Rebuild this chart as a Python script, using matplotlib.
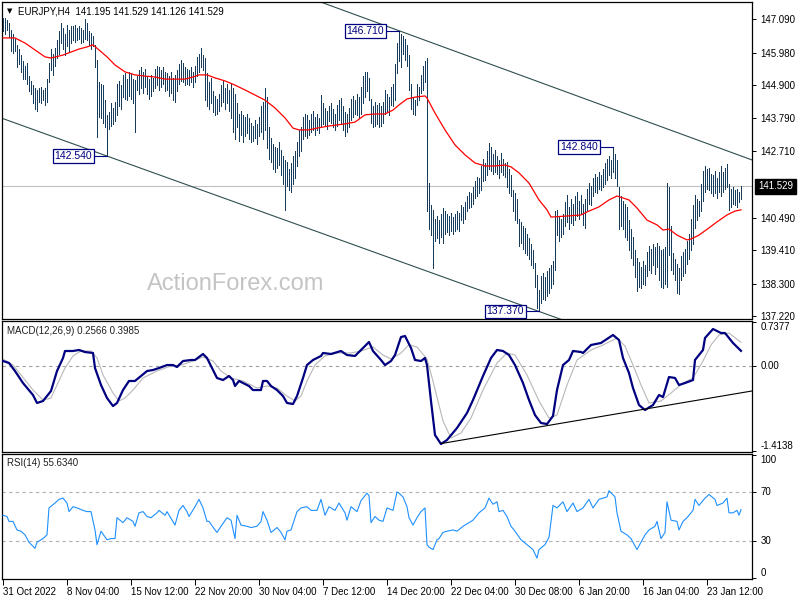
import matplotlib
matplotlib.use("Agg")
import matplotlib.pyplot as plt
import numpy as np

plt.rcParams['font.family'] = ['Liberation Sans', 'DejaVu Sans']

# ---------------- data ----------------
title_text = "EURJPY,H4  141.195 141.529 141.126 141.529"

high = [
    147.13, 147.13, 147.07, 146.95, 146.75, 146.60, 146.45, 146.24, 146.10, 145.90,
    145.70, 145.55, 145.62, 145.20, 145.05, 144.90, 144.80, 144.75, 144.80, 144.85,
    144.75, 144.80, 145.10, 145.65, 146.10, 145.95, 146.15, 146.40, 146.70, 146.97,
    146.80, 146.60, 146.90, 146.75, 146.85, 146.85, 146.90, 146.80, 146.88, 146.80,
    146.75, 147.10, 146.95, 146.70, 146.65, 146.55, 146.24, 145.74, 145.00, 144.95,
    144.90, 144.40, 143.90, 144.00, 144.30, 144.15, 144.35, 144.95, 145.05, 144.90,
    145.25, 145.30, 145.10, 145.35, 145.30, 145.10, 145.07, 145.20, 145.40, 145.50,
    145.35, 145.45, 145.20, 145.10, 145.25, 145.15, 145.45, 145.55, 145.50, 145.40,
    145.50, 145.35, 145.30, 145.20, 145.35, 145.15, 145.25, 145.40, 145.60, 145.75,
    145.65, 145.50, 145.45, 145.40, 145.50, 145.35, 145.55, 145.85, 145.95, 146.12,
    145.90, 145.80, 145.30, 145.00, 145.15, 144.70, 144.55, 144.45, 144.60, 144.90,
    145.05, 144.80, 144.95, 144.75, 144.95, 144.80, 144.60, 144.30, 143.95, 144.05,
    143.90, 143.85, 143.95, 143.80, 143.65, 143.55, 143.75, 143.60, 143.85, 144.20,
    144.35, 144.80, 144.50, 143.50, 143.15, 142.95, 142.85, 142.80, 143.00, 142.75,
    142.55, 142.40, 142.35, 142.10, 142.30, 142.55, 142.70, 143.00, 143.40, 143.50,
    143.85, 143.95, 143.90, 143.75, 143.95, 144.05, 143.85, 143.95, 143.80, 144.57,
    144.30, 144.15, 144.05, 144.20, 144.30, 144.10, 143.95, 144.25, 144.40, 144.47,
    144.20, 144.00, 143.95, 144.15, 144.45, 144.55, 144.40, 144.60, 144.50, 144.85,
    145.20, 145.35, 145.35, 145.15, 144.45, 144.20, 144.35, 144.25, 144.30, 144.20,
    144.35, 144.75, 144.60, 144.50, 144.85, 144.95, 145.60, 146.30, 146.71, 146.60,
    146.55, 146.45, 146.25, 145.90, 144.95, 144.50, 144.40, 144.95, 144.85, 145.25,
    145.55, 145.70, 145.80, 141.65, 140.90, 140.75, 140.45, 140.55, 140.40, 140.60,
    140.80, 140.70, 140.60, 140.55, 140.65, 140.50, 140.60, 140.70, 140.65, 140.90,
    140.85, 141.00, 141.20, 141.35, 141.30, 141.50, 141.70, 141.85, 141.80, 142.20,
    142.45, 142.30, 142.70, 142.97, 142.85, 142.60, 142.75, 142.55, 142.40, 142.65,
    142.45, 142.30, 142.35, 142.10, 141.90, 141.40, 141.30, 141.10, 140.45, 140.35,
    140.20, 140.15, 139.95, 139.80, 139.60, 139.40, 138.98, 138.58, 138.08, 138.55,
    138.65, 138.50, 138.70, 138.80, 138.90, 139.05, 140.70, 140.75, 140.55, 140.45,
    140.60, 141.00, 141.25, 140.85, 141.10, 140.95, 141.20, 141.35, 141.05, 141.25,
    140.95, 141.10, 141.45, 141.65, 141.55, 141.80, 141.95, 141.85, 142.00, 141.90,
    142.10, 142.30, 142.45, 142.55, 142.40, 142.84, 142.60, 142.40, 141.50, 141.20,
    141.05, 140.95, 140.85, 140.40, 140.10, 139.85, 139.40, 139.15, 139.00, 138.85,
    139.05, 138.90, 139.35, 139.55, 139.45, 139.60, 139.50, 139.65, 139.55, 139.40,
    139.45, 139.50, 141.65, 141.50, 140.20, 139.30, 139.10, 138.95, 138.80, 139.20,
    139.35, 139.45, 139.70, 139.95, 140.45, 140.90, 141.25, 141.10, 141.05, 141.60,
    142.05, 142.20, 142.10, 142.15, 141.95, 141.90, 142.05, 141.80, 142.00, 142.20,
    142.00, 142.15, 142.27, 141.60, 141.45, 141.50, 141.40, 141.45, 141.35, 141.529,
]

low = [
    146.70, 146.60, 146.75, 146.50, 146.05, 145.98, 146.05, 145.50, 145.60, 145.35,
    145.10, 145.10, 144.95, 144.70, 144.60, 144.30, 144.10, 144.05, 144.35, 144.30,
    144.40, 144.25, 144.35, 145.00, 145.40, 145.25, 145.55, 145.80, 145.95, 146.30,
    146.10, 145.90, 146.20, 146.05, 146.30, 146.40, 146.35, 146.40, 146.45, 146.30,
    146.35, 146.45, 146.40, 146.25, 146.10, 146.20, 145.50, 143.17, 143.85, 143.80,
    143.65, 143.50, 142.54, 143.45, 143.55, 143.60, 143.70, 143.90, 144.20, 144.10,
    144.50, 144.45, 144.40, 144.55, 144.45, 144.30, 143.35, 144.75, 144.60, 144.80,
    144.65, 144.85, 144.60, 144.45, 144.55, 144.70, 144.80, 144.90, 144.75, 144.85,
    144.95, 144.70, 144.75, 144.55, 144.65, 144.40, 144.35, 144.70, 144.95, 145.05,
    145.00, 144.90, 144.95, 144.90, 145.00, 144.85, 145.00, 145.20, 145.35, 145.50,
    145.40, 144.40, 144.20, 144.10, 144.30, 144.00, 143.90, 143.95, 144.05, 144.20,
    144.35, 144.10, 144.30, 144.05, 143.80, 143.35, 143.10, 143.50, 143.05, 143.25,
    143.00, 143.20, 143.30, 143.10, 143.00, 143.05, 143.15, 142.95, 143.20, 143.35,
    143.10, 143.40, 142.80, 142.45, 142.35, 142.10, 142.00, 142.15, 142.25, 141.90,
    141.60, 140.75, 141.55, 141.40, 141.35, 141.60, 141.80, 142.20, 142.55, 142.70,
    143.10, 143.20, 143.15, 143.25, 143.35, 143.40, 143.25, 143.40, 143.30, 143.55,
    143.60, 143.55, 143.45, 143.70, 143.65, 143.50, 143.40, 143.55, 143.75, 143.60,
    143.40, 143.20, 143.35, 143.50, 143.75, 143.85, 143.95, 143.90, 143.80, 143.95,
    144.30, 144.50, 144.70, 144.40, 143.65, 143.50, 143.55, 143.60, 143.50, 143.55,
    143.65, 143.95, 144.00, 143.90, 144.25, 144.20, 144.40, 145.30, 145.70, 145.50,
    145.95, 145.75, 145.55, 144.75, 144.10, 143.95, 143.90, 144.25, 144.40, 144.65,
    144.75, 145.00, 140.70, 140.10, 139.90, 138.82, 139.70, 139.80, 139.65, 139.85,
    139.65, 139.95, 140.00, 139.90, 140.05, 139.95, 140.05, 140.10, 140.05, 140.40,
    140.30, 140.45, 140.70, 140.80, 140.85, 140.95, 141.15, 141.20, 141.30, 141.40,
    141.70, 141.75, 141.90, 142.10, 142.05, 141.95, 142.00, 141.95, 141.80, 142.00,
    141.90, 141.85, 141.50, 141.30, 141.20, 140.70, 140.40, 140.30, 139.55, 139.65,
    139.45, 139.30, 139.25, 139.10, 138.90, 138.80, 138.19, 137.48, 137.37, 137.65,
    137.80, 137.75, 137.90, 138.00, 138.15, 138.30, 138.75, 139.90, 139.70, 139.85,
    139.95, 140.20, 140.35, 140.10, 140.30, 140.25, 140.40, 140.55, 140.45, 140.60,
    140.25, 140.15, 140.75, 140.95, 140.90, 141.20, 141.35, 141.30, 141.45, 141.40,
    141.50, 141.60, 141.75, 141.90, 141.80, 142.00, 141.80, 141.55, 140.10, 140.20,
    140.10, 139.85, 139.75, 139.40, 139.15, 138.90, 138.50, 138.05, 138.20, 138.15,
    138.30, 138.25, 138.55, 138.75, 138.65, 138.90, 138.60, 138.85, 138.40, 138.20,
    138.15, 138.30, 138.20, 139.25, 138.75, 138.60, 138.40, 138.00, 137.95, 138.40,
    138.55, 138.65, 138.95, 139.10, 139.40, 139.60, 140.15, 140.40, 140.55, 140.70,
    141.05, 141.35, 141.45, 141.40, 141.30, 141.20, 141.30, 141.15, 141.35, 141.20,
    141.35, 141.45, 141.50, 140.75, 140.85, 140.95, 140.90, 140.85, 141.00, 141.126,
]

ma_bar = [0, 6, 11, 16, 21, 24, 30, 34, 38, 42, 45, 48, 52, 56, 61, 66, 71, 76, 81, 86,
          91, 95, 98, 102, 106, 111, 116, 121, 126, 131, 136, 141, 145, 148, 153, 157, 163, 171, 176, 181,
          186, 191, 195, 198, 202, 206, 211, 212, 216, 221, 226, 231, 236, 241, 246, 251, 254, 258, 263, 268,
          272, 274, 283, 289, 292, 298, 303, 307, 313, 317, 322, 327, 330, 333, 337, 342, 344, 348, 353, 357,
          362, 366, 369]
ma_val = [146.47, 146.47, 146.30, 146.07, 145.84, 145.80, 145.90, 146.00, 146.10, 146.17,
          146.24, 146.07, 145.84, 145.57, 145.34, 145.24, 145.20, 145.17, 145.10, 145.10,
          145.10, 145.17, 145.24, 145.24, 145.14, 145.04, 144.90, 144.74, 144.57, 144.40,
          144.14, 143.81, 143.47, 143.41, 143.41, 143.47, 143.54, 143.61, 143.67, 143.91,
          143.94, 143.94, 144.07, 144.24, 144.44, 144.50, 144.54, 144.47, 143.97, 143.41,
          142.91, 142.58, 142.31, 142.21, 142.21, 142.24, 142.18, 141.98, 141.64, 141.08,
          140.75, 140.51, 140.55, 140.58, 140.68, 140.85, 141.08, 141.21, 141.08, 140.81,
          140.41, 140.25, 140.08, 140.11, 139.91, 139.75, 139.78, 139.91, 140.15, 140.35,
          140.58, 140.71, 140.75]

macd_bar = [0, 3, 6, 10, 15, 17, 20, 24, 27, 30, 31, 35, 38, 41, 45, 46, 49, 52, 55, 57,
            60, 63, 66, 69, 72, 75, 78, 82, 85, 87, 90, 94, 96, 100, 102, 105, 107, 110, 113, 115,
            116, 118, 120, 123, 125, 129, 130, 132, 134, 137, 140, 142, 145, 147, 150, 152, 155, 159, 160, 164,
            169, 172, 176, 180, 183, 185, 189, 191, 194, 196, 199, 201, 204, 206, 209, 211, 212, 214, 216, 219,
            222, 227, 232, 235, 240, 244, 247, 250, 253, 256, 260, 263, 266, 269, 272, 275, 277, 280, 283, 285,
            289, 290, 294, 299, 305, 308, 310, 313, 315, 318, 321, 325, 328, 330, 333, 336, 338, 341, 345, 346,
            350, 351, 355, 356, 359, 361, 365, 369]
macd_val = [0.087, 0.054, -0.080, -0.280, -0.480, -0.613, -0.580, -0.413, -0.080, 0.137,
            0.254, 0.254, 0.271, 0.237, 0.221, -0.030, -0.313, -0.530, -0.664, -0.613,
            -0.397, -0.246, -0.246, -0.163, -0.080, -0.063, -0.030, 0.020, 0.020, -0.013,
            0.087, 0.104, 0.104, 0.204, 0.137, -0.063, -0.196, -0.230, -0.163, -0.230,
            -0.330, -0.246, -0.280, -0.330, -0.397, -0.397, -0.246, -0.246, -0.330, -0.397,
            -0.497, -0.613, -0.630, -0.497, -0.196, 0.020, 0.104, 0.171, 0.221, 0.204,
            0.254, 0.187, 0.171, 0.304, 0.404, 0.254, 0.104, 0.020, 0.087, 0.187,
            0.487, 0.504, 0.304, 0.104, 0.087, 0.137, 0.020, -0.580, -1.147, -1.297,
            -1.230, -1.030, -0.780, -0.563, -0.163, 0.137, 0.271, 0.254, 0.187, 0.020,
            -0.280, -0.563, -0.814, -0.947, -0.964, -0.830, -0.397, 0.020, 0.104, 0.254,
            0.237, 0.221, 0.354, 0.388, 0.521, 0.437, 0.137, -0.113, -0.363, -0.647,
            -0.730, -0.647, -0.480, -0.514, -0.180, -0.196, -0.313, -0.280, -0.230, 0.104,
            0.271, 0.471, 0.621, 0.604, 0.554, 0.554, 0.388, 0.2566]

signal_bar = [0, 5, 9, 15, 20, 24, 27, 31, 35, 39, 44, 47, 50, 55, 58, 61, 65, 70, 77, 84,
              89, 95, 100, 105, 109, 114, 120, 127, 132, 137, 142, 146, 149, 152, 156, 161, 167, 174, 179, 185,
              190, 194, 199, 203, 207, 212, 215, 220, 224, 229, 234, 240, 247, 252, 256, 262, 268, 273, 277, 282,
              287, 294, 300, 307, 311, 315, 319, 323, 329, 334, 340, 345, 350, 354, 358, 363, 369]
signal_val = [0.12, 0.020, -0.146, -0.397, -0.563, -0.530, -0.313, -0.030, 0.171, 0.254,
              0.254, 0.137, -0.146, -0.447, -0.580, -0.530, -0.397, -0.196, -0.080, 0.004,
              0.020, 0.087, 0.154, 0.087, -0.080, -0.196, -0.246, -0.363, -0.330, -0.363,
              -0.497, -0.580, -0.497, -0.246, 0.020, 0.171, 0.221, 0.221, 0.254, 0.321,
              0.187, 0.120, 0.220, 0.360, 0.320, 0.120, -0.250, -0.914, -1.197, -1.114,
              -0.864, -0.397, 0.054, 0.221, 0.187, -0.146, -0.580, -0.864, -0.814, -0.313,
              0.104, 0.271, 0.354, 0.471, 0.337, 0.020, -0.313, -0.613, -0.580, -0.447,
              -0.280, -0.196, 0.087, 0.354, 0.521, 0.554, 0.3985]

rsi_bar = [0, 2, 3, 5, 7, 9, 11, 13, 16, 17, 20, 22, 23, 26, 28, 30, 32, 33, 35, 37,
           40, 42, 44, 46, 47, 49, 52, 54, 56, 57, 60, 62, 65, 66, 68, 70, 72, 74, 77, 78,
           81, 82, 86, 88, 90, 92, 93, 96, 98, 100, 102, 103, 106, 107, 109, 112, 114, 116, 117, 119,
           122, 124, 127, 129, 130, 132, 134, 137, 139, 141, 142, 144, 147, 149, 152, 154, 157, 159, 161, 163,
           166, 168, 171, 172, 174, 177, 179, 182, 183, 184, 186, 188, 190, 192, 195, 197, 198, 200, 202, 203,
           205, 207, 209, 211, 212, 213, 215, 217, 218, 220, 222, 225, 227, 230, 232, 235, 238, 241, 243, 245,
           247, 248, 250, 252, 254, 256, 259, 262, 265, 267, 268, 271, 273, 275, 277, 280, 282, 285, 287, 290,
           293, 295, 298, 302, 303, 306, 307, 309, 312, 314, 317, 319, 321, 323, 326, 327, 329, 331, 332, 334,
           337, 338, 340, 342, 345, 346, 348, 351, 353, 356, 357, 360, 362, 363, 365, 367, 368, 369]
rsi_val = [51, 50, 46, 46, 39, 38, 35, 29, 24, 29, 32, 35, 57, 61, 64, 65, 61, 54, 58, 57,
           55, 54, 54, 39, 27, 38, 31, 32, 32, 49, 45, 49, 46, 42, 53, 54, 50, 49, 53, 55,
           51, 54, 43, 55, 59, 54, 50, 58, 64, 57, 46, 46, 39, 37, 42, 49, 47, 32, 51, 43,
           42, 41, 42, 46, 54, 47, 37, 41, 37, 31, 38, 39, 54, 57, 58, 55, 55, 64, 51, 58,
           55, 61, 53, 47, 58, 54, 63, 69, 67, 45, 50, 47, 46, 57, 55, 70, 69, 66, 58, 49,
           43, 49, 54, 57, 27, 25, 23, 31, 32, 37, 38, 39, 38, 42, 44, 47, 53, 57, 65, 60,
           62, 54, 55, 50, 42, 38, 31, 27, 23, 16, 23, 27, 33, 59, 57, 62, 54, 61, 54, 57,
           64, 57, 64, 66, 71, 66, 53, 38, 35, 32, 23, 29, 35, 39, 42, 46, 32, 37, 62, 47,
           46, 39, 46, 49, 55, 64, 59, 65, 68, 64, 59, 61, 65, 53, 53, 55, 51, 55.634]

price_ticks = [147.090, 145.980, 144.900, 143.790, 142.710, 140.490, 139.410, 138.300, 137.220]
last_price = 141.529
macd_ticks = [0.7377, 0.00, -1.4138]
macd_tick_labels = ["0.7377", "0.00", "-1.4138"]
rsi_ticks = [100, 70, 30, 0]
date_bars = [0, 32, 64, 96, 128, 160, 192, 224, 256, 288, 320, 352]
date_labels = ["31 Oct 2022", "8 Nov 04:00", "15 Nov 12:00", "22 Nov 20:00", "30 Nov 04:00",
               "7 Dec 12:00", "14 Dec 20:00", "22 Dec 04:00", "30 Dec 08:00", "6 Jan 20:00",
               "16 Jan 04:00", "23 Jan 12:00"]
marked_bars = [52, 198, 305, 268]
marked_prices = [142.540, 146.710, 142.840, 137.370]
upper_channel = [(198, 146.71), (370, 142.52)]
lower_channel = [(52, 142.54), (268, 137.37)]
macd_trend = [(219, -1.29), (375, -0.41)]
macd_label = "MACD(12,26,9) 0.2566 0.3985"
rsi_label = "RSI(14) 55.6340"

# ---------------- style ----------------
BAR = '#173c5c'
NAVY = '#000080'
FS = 7

fig = plt.figure(figsize=(8, 6), dpi=100)
fig.patch.set_facecolor('white')


def rect(top, bottom, left=2, right=752):
    return [left / 800, 1 - bottom / 600, (right - left) / 800, (bottom - top) / 600]


ax = fig.add_axes(rect(2, 319))
axm = fig.add_axes(rect(321, 452))
axr = fig.add_axes(rect(454, 579))

XL = (-0.5, 374.5)
for a in (ax, axm, axr):
    a.set_xlim(*XL)
    for s in a.spines.values():
        s.set_linewidth(0.9)
        s.set_color('black')
    a.yaxis.tick_right()
    a.tick_params(axis='y', which='both', direction='out', length=3, width=0.7,
                  labelsize=FS, pad=3, colors='black')
for a in (ax, axm):
    a.tick_params(axis='x', bottom=False, labelbottom=False)

# ---- main price panel ----
ax.set_ylim(137.119, 147.665)
idx = np.arange(len(high))
ax.vlines(idx, low, high, colors=BAR, linewidth=0.6, antialiased=False, zorder=3)
ax.plot(ma_bar, ma_val, color='#ff0000', linewidth=0.9, zorder=4)
ax.axhline(last_price, color='#c0c0c0', linewidth=0.8, zorder=1)


def ray(points, x0, x1):
    (b1, p1), (b2, p2) = points
    k = (p2 - p1) / (b2 - b1)
    return [x0, x1], [p1 + k * (x0 - b1), p1 + k * (x1 - b1)]


xs, ys = ray(upper_channel, 100, 380)
ax.plot(xs, ys, color='#2f4f4f', linewidth=0.8, zorder=2)
xs, ys = ray(lower_channel, -5, 300)
ax.plot(xs, ys, color='#2f4f4f', linewidth=0.8, zorder=2)

for b, p in zip(marked_bars, marked_prices):
    ax.plot([b - 6, b], [p, p], color=NAVY, linewidth=0.8, zorder=5)
    ax.annotate(f"{p:.3f}", xy=(b - 6, p), xytext=(-3, 0), textcoords='offset pixels',
                ha='right', va='center', fontsize=7.5, color=NAVY, zorder=6,
                bbox=dict(boxstyle='square,pad=0.18', fc='white', ec=NAVY, lw=0.9))

ax.set_yticks(price_ticks)
ax.set_yticklabels([f"{t:.3f}" for t in price_ticks])
ax.annotate(f"{last_price:.3f}", xy=(1.0, last_price), xycoords=('axes fraction', 'data'),
            xytext=(6, 0), textcoords='offset pixels', ha='left', va='center',
            fontsize=FS, color='white', annotation_clip=False,
            bbox=dict(boxstyle='square,pad=0.3', fc='black', ec='black'))

fig.text(7 / 800, 1 - 11.5 / 600, "\u25BC", fontsize=5, family='DejaVu Sans',
         va='center', ha='left', color='black')
fig.text(18 / 800, 1 - 11 / 600, title_text, fontsize=FS, va='center', ha='left', color='black')
fig.text(147 / 800, 1 - 284 / 600, "ActionForex.com", fontsize=17, color='#c4c4c4',
         va='center', ha='left')

# ---- MACD panel ----
axm.set_ylim(-1.4305, 0.7544)
axm.axhline(0, color='#a0a0a0', linewidth=0.8, linestyle=(0, (3, 3)), zorder=1)
axm.plot(signal_bar, signal_val, color='#b8b8b8', linewidth=0.8, zorder=2)
axm.plot(macd_bar, macd_val, color=NAVY, linewidth=1.6, zorder=3)
axm.plot([macd_trend[0][0], macd_trend[1][0]], [macd_trend[0][1], macd_trend[1][1]],
         color='black', linewidth=0.8, zorder=4)
axm.set_yticks(macd_ticks)
axm.set_yticklabels(macd_tick_labels)
for t, va in zip(axm.yaxis.get_major_ticks(), ['top', 'center', 'bottom']):
    t.label2.set_verticalalignment(va)
axm.text(5 / 750, 1 - 10 / 131, macd_label, transform=axm.transAxes, fontsize=FS,
         va='center', ha='left', color='#202020')

# ---- RSI panel ----
axr.set_ylim(-1.02, 101.02)
for lvl in (30, 70):
    axr.axhline(lvl, color='#b0b0b0', linewidth=0.8, linestyle=(0, (3, 3)), zorder=1)
axr.plot(rsi_bar, rsi_val, color='#1e90ff', linewidth=0.8, zorder=3)
axr.set_yticks(rsi_ticks)
axr.set_yticklabels([str(t) for t in rsi_ticks])
for t, va in zip(axr.yaxis.get_major_ticks(), ['top', 'center', 'center', 'bottom']):
    t.label2.set_verticalalignment(va)
axr.text(5 / 750, 1 - 9 / 125, rsi_label, transform=axr.transAxes, fontsize=FS,
         va='center', ha='left', color='#202020')

axr.set_xticks(date_bars)
axr.set_xticklabels(date_labels)
axr.tick_params(axis='x', direction='out', length=4, width=0.7, labelsize=FS, pad=2)
for lbl in axr.get_xticklabels():
    lbl.set_horizontalalignment('left')

fig.savefig('out.png', dpi=100, facecolor='white')
